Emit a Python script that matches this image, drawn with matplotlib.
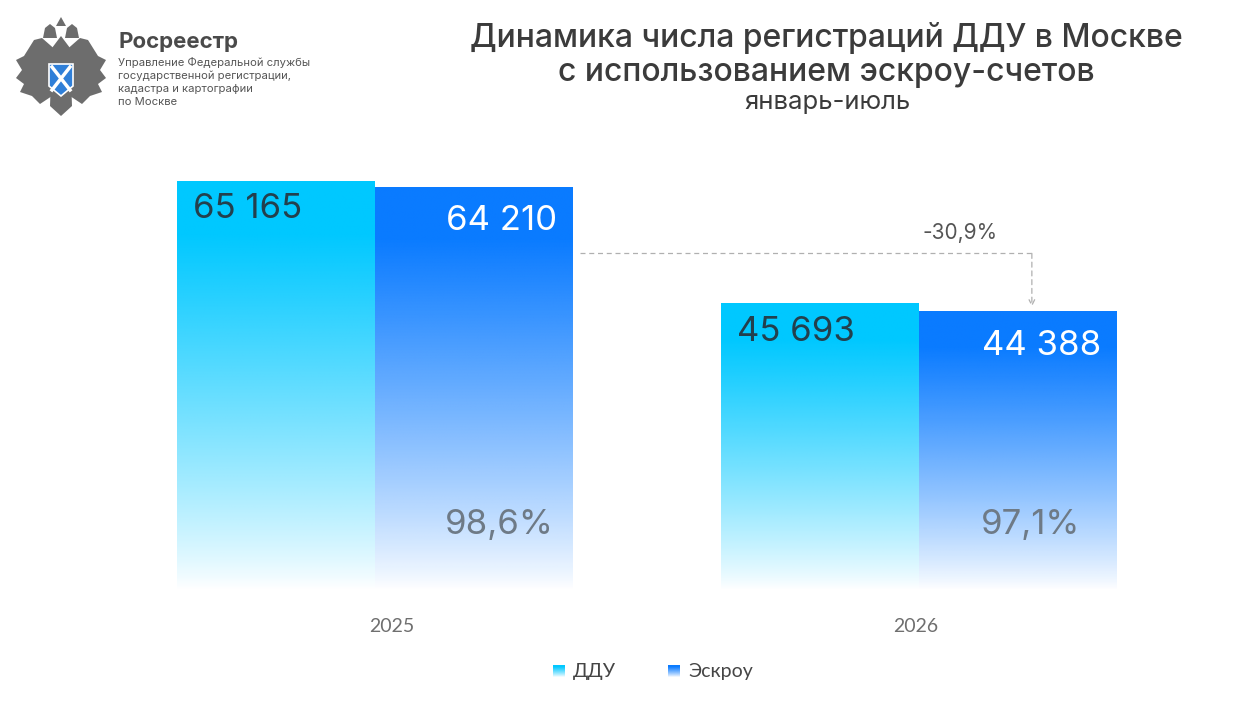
import matplotlib
matplotlib.use("Agg")
import matplotlib.pyplot as plt
import numpy as np
from matplotlib.patches import Polygon

W, H = 1244, 712
years = ["2025", "2026"]
ddu = [65165, 45693]
escrow = [64210, 44388]
escrow_share = ["98,6%", "97,1%"]
change_label = "-30,9%"
series_names = ["ДДУ", "Эскроу"]

title_lines = ["Динамика числа регистраций ДДУ в Москве", "с использованием эскроу-счетов"]
subtitle = "январь-июль"
logo_name = "Росреестр"
logo_lines = ["Управление Федеральной службы", "государственной регистрации,",
              "кадастра и картографии", "по Москве"]

C_DDU, C_ESC = "#00c8ff", "#0a7bff"
DARK, GREY, INK = "#23404d", "#6e7a86", "#3b3b3b"
FONT = ["Inter", "DejaVu Sans"]
FONT2 = ["Lato", "DejaVu Sans"]


def fx(px):
    return px / W


def fy(py):
    return 1 - py / H


def grad(color, n=256):
    rgb = np.array(matplotlib.colors.to_rgb(color))
    t = np.linspace(0, 1, n)
    a = np.clip(t * 1.15, 0, 1) ** 0.85
    img = np.ones((n, 1, 4))
    img[:, 0, :3] = rgb
    img[:, 0, 3] = a
    return img


fig = plt.figure(figsize=(W / 100, H / 100), dpi=100, facecolor="white")
ax = fig.add_axes([0, 0, 1, 1])
# data mapping: group centre 0 -> px 375, 544 px per group; baseline at py 590
ppx, ppy = 544.0, 0.00627
ax.set_xlim(-375 / ppx, (W - 375) / ppx)
ax.set_ylim(-(H - 590) / ppy, 590 / ppy)
ax.axis("off")

bw = 198 / ppx
share_pad = [19, 37]
year_shift = [17, -3]
for i in range(len(years)):
    for j, (vals, col) in enumerate([(ddu, C_DDU), (escrow, C_ESC)]):
        x0 = i - bw + j * bw
        ax.imshow(grad(col), extent=[x0, x0 + bw, 0, vals[i]], origin="lower",
                  aspect="auto", interpolation="bilinear", zorder=2)
    # value labels
    ax.text(i - bw + 16 / ppx, ddu[i] - 28 / ppy, f"{ddu[i]:,}".replace(",", " "),
            ha="left", va="center", fontsize=25, color=DARK, family=FONT, zorder=3)
    ax.text(i + bw - 16 / ppx, escrow[i] - 34 / ppy, f"{escrow[i]:,}".replace(",", " "),
            ha="right", va="center", fontsize=25, color="white", family=FONT, zorder=3)
    ax.text(i + bw - share_pad[i] / ppx, 65 / ppy, escrow_share[i],
            ha="right", va="center", fontsize=25, color=GREY, family=FONT, zorder=3)
    ax.text(i + year_shift[i] / ppx, -36 / ppy, years[i], ha="center", va="center",
            fontsize=14, color="#6f6f6f", family=FONT2)

# change arrow
xa0 = bw + 7 / ppx
ya = escrow[0] - 66 / ppy
xa1 = 1 + bw * 0.57
ax.plot([xa0, xa1], [ya, ya], ls=(0, (4, 3)), lw=0.9, color="#b0b0b0", zorder=1)
ax.annotate("", xy=(xa1, escrow[1] + 5 / ppy), xytext=(xa1, ya),
            arrowprops=dict(arrowstyle="->", ls=(0, (4, 3)), lw=0.9, color="#b0b0b0",
                            shrinkA=0, shrinkB=0))
ax.text(xa1 - 72 / ppx, ya + 20 / ppy, change_label, ha="center", va="center",
        fontsize=15, color="#555555", family=FONT)

# title
fig.text(fx(826), fy(38), title_lines[0], ha="center", va="center", fontsize=23,
         color=INK, family=FONT, fontweight=500)
fig.text(fx(826), fy(73), title_lines[1], ha="center", va="center", fontsize=23,
         color=INK, family=FONT, fontweight=500)
fig.text(fx(827), fy(103), subtitle, ha="center", va="center", fontsize=18.5,
         color=INK, family=FONT)

# legend
for k, (name, col, lx) in enumerate(zip(series_names, [C_DDU, C_ESC], [553, 668])):
    lax = fig.add_axes([fx(lx), fy(677), fx(12), 12 / H])
    lax.imshow(grad(col), extent=[0, 1, 0, 1], origin="lower", aspect="auto")
    lax.axis("off")
    fig.text(fx(lx + 20), fy(671), name, ha="left", va="center", fontsize=14,
             color="#454545", family=FONT2)

# logo
fig.text(fx(118), fy(42), logo_name, ha="left", va="center", fontsize=16,
         fontweight="bold", color="#4a4a4a", family=FONT)
for k, line in enumerate(logo_lines):
    fig.text(fx(118), fy(62 + k * 13.3), line, ha="left", va="center", fontsize=8.1,
             color="#555555", family=FONT)

lg = fig.add_axes([fx(12), fy(118), fx(98), 106 / H])
lg.set_xlim(0, 98)
lg.set_ylim(106, 0)
lg.axis("off")
eg = "#6d6d6d"
wing_l = [(46, 40), (30, 26), (22, 28), (12, 44), (4, 48), (10, 58), (4, 66), (12, 72),
          (8, 80), (20, 84), (28, 92), (40, 84), (46, 78)]
lg.add_patch(Polygon(wing_l, closed=True, fc=eg, ec="none"))
lg.add_patch(Polygon([(98 - x, y) for x, y in wing_l], closed=True, fc=eg, ec="none"))
lg.add_patch(Polygon([(40, 36), (49, 24), (58, 36), (60, 94), (49, 104), (38, 94)],
                     closed=True, fc=eg, ec="none"))
for cx in (38, 60):
    lg.add_patch(Polygon([(cx - 7, 26), (cx - 5, 16), (cx, 12), (cx + 5, 16), (cx + 7, 26)],
                         closed=True, fc=eg, ec="none"))
lg.add_patch(Polygon([(44, 14), (49, 5), (54, 14)], closed=True, fc=eg, ec="none"))
lg.add_patch(Polygon([(37, 52), (61, 52), (61, 74), (49, 84), (37, 74)],
                     closed=True, fc="#2f7fd8", ec="white", lw=1.2))
lg.plot([40, 58], [55, 78], color="white", lw=2.5)
lg.plot([58, 40], [55, 78], color="white", lw=2.5)

fig.savefig("out.png", dpi=100, facecolor="white")
